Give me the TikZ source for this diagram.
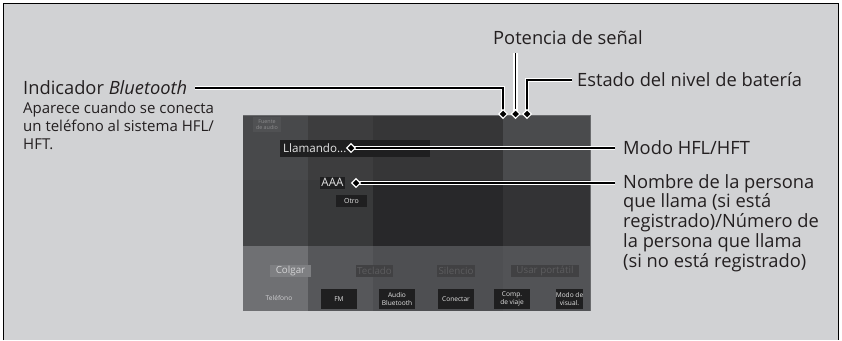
\documentclass[tikz,border=0pt]{standalone}
\usepackage{fontspec}
\setmainfont{Open Sans}
\usetikzlibrary{shapes.geometric}

\definecolor{pagegray}{HTML}{D1D2D4}
\definecolor{inkblack}{HTML}{231F20}
\definecolor{keydark}{HTML}{1F1F20}
\definecolor{keydim}{HTML}{414143}
\definecolor{txtlight}{HTML}{E4E4E4}
\definecolor{txtdim}{HTML}{5C5C5E}
\definecolor{topA}{HTML}{48494B}
\definecolor{topB}{HTML}{3D3D3E}
\definecolor{topC}{HTML}{363637}
\definecolor{topD}{HTML}{4A4B4D}
\definecolor{midA}{HTML}{444547}
\definecolor{midB}{HTML}{38393A}
\definecolor{midC}{HTML}{28282A}
\definecolor{midD}{HTML}{333335}
\definecolor{botA}{HTML}{6F7073}
\definecolor{botB}{HTML}{56575A}
\definecolor{botC}{HTML}{4E4F52}
\definecolor{botD}{HTML}{525356}
\definecolor{rimgray}{HTML}{6A6B6D}
\definecolor{srcbox}{HTML}{505153}
\definecolor{srctxt}{HTML}{8A8A8C}
\definecolor{hangbox}{HTML}{7E7F82}
\definecolor{hangtxt}{HTML}{D4D4D6}
\definecolor{phonetxt}{HTML}{D0D0D2}

\tikzset{
  callout/.style={draw=black, line width=1.8pt, preaction={draw=white, line width=4.6pt}},
  marker/.style={diamond, fill=black, draw=white, line width=1.1pt, inner sep=0pt, minimum size=9pt},
  label/.style={inner sep=0pt, align=left, text=inkblack, font=\fontsize{18.3}{19.8}\selectfont},
  desc/.style={inner sep=0pt, align=left, text=inkblack, font=\fontsize{15}{18}\selectfont},
  softkey/.style={fill=keydark, text=txtlight, inner sep=0pt, minimum height=20pt, align=center, font=\fontsize{6.6}{7.6}\selectfont},
  barkey/.style={fill=keydim, text=txtdim, inner sep=0pt, minimum height=12pt, font=\fontsize{9.8}{10}\selectfont}
}

\begin{document}
\begin{tikzpicture}[x=1pt,y=-1pt]
\useasboundingbox (0,0) rectangle (842,340);
\fill[pagegray] (3.5,3.5) rectangle (838.5,340);
\draw[line width=1.2pt] (3.5,340) -- (3.5,3.5) -- (838.5,3.5) -- (838.5,340);

% screen
\fill[topA] (243,115) rectangle (308,180);
\fill[topB] (308,115) rectangle (373,180);
\fill[topC] (373,115) rectangle (503,180);
\fill[topD] (503,115) rectangle (590,180);
\fill[midA] (243,180) rectangle (308,246);
\fill[midB] (308,180) rectangle (373,246);
\fill[midC] (373,180) rectangle (503,246);
\fill[midD] (503,180) rectangle (590,246);
\fill[botA] (243,246) rectangle (308,311);
\fill[botB] (308,246) rectangle (373,311);
\fill[botC] (373,246) rectangle (503,311);
\fill[botD] (503,246) rectangle (590,311);
\draw[rimgray, line width=0.8pt] (243,115) -- (590,115) -- (590,311);

\node[fill=srcbox, text=srctxt, inner sep=0pt, minimum width=28pt, minimum height=15pt, align=center, font=\fontsize{5.4}{6}\selectfont] (src) at (267,124.5) {Fuente\\de audio};
\node[fill=keydark, inner sep=0pt, minimum width=150pt, minimum height=17pt] (callbox) at (355,148.5) {};
\node[text=txtlight, inner sep=0pt, anchor=west, font=\fontsize{11.6}{12}\selectfont] (calling) at (283,148.5) {Llamando...};
\node[fill=keydark, text=txtlight, inner sep=0pt, minimum width=25pt, minimum height=12pt, font=\fontsize{11.6}{12}\selectfont] (caller) at (332.5,182.5) {AAA};
\node[fill=keydark, text=txtlight, inner sep=0pt, minimum width=31pt, minimum height=12pt, font=\fontsize{7}{7}\selectfont] (other) at (351.5,201) {Otro};

\node[barkey, fill=hangbox, text=hangtxt, minimum width=41pt] (hang) at (290.5,271) {Colgar};
\node[barkey, minimum width=37pt] (pad) at (374.5,271) {Teclado};
\node[barkey, minimum width=38pt] (mute) at (456,271) {Silencio};
\node[barkey, minimum width=68pt] (handset) at (545,271) {Usar portátil};

\node[text=phonetxt, inner sep=0pt, font=\fontsize{6.6}{7.6}\selectfont] (phone) at (279,298) {Teléfono};
\node[softkey, minimum width=36pt] (fm) at (339,299) {FM};
\node[softkey, minimum width=36pt] (btaudio) at (397,299) {Audio\\Bluetooth};
\node[softkey, minimum width=36pt] (connect) at (456,299) {Conectar};
\node[softkey, minimum width=36pt] (trip) at (512,299) {Comp.\\de viaje};
\node[softkey, minimum width=27pt] (display) at (569.5,299) {Modo de\\visual.};

% callouts
\coordinate (pBt) at (503,114);
\coordinate (pSig) at (515.5,114);
\coordinate (pBat) at (527,114);
\coordinate (pMode) at (351,148);
\coordinate (pName) at (356,183);

\node[label, anchor=west] (bt) at (23,88) {Indicador \textit{Bluetooth}};
\node[desc, anchor=north west] (btdesc) at (23,102) {Aparece cuando se conecta\\un teléfono al sistema HFL/\\HFT.};
\node[label, anchor=west] (sig) at (493,38) {Potencia de señal};
\node[label, anchor=west] (bat) at (577,80) {Estado del nivel de batería};
\node[label, anchor=west] (mode) at (623,148) {Modo HFL/HFT};
\node[label, anchor=north west] (name) at (623,174) {Nombre de la persona\\que llama (si está\\registrado)/Número de\\la persona que llama\\(si no está registrado)};

\draw[callout] ([xshift=8pt]bt.east) -| (pBt);
\draw[callout] ([yshift=-8pt]sig.south -| pSig) -- (pSig);
\draw[callout] ([xshift=-5pt]bat.west) -| (pBat);
\draw[callout] ([xshift=-8pt]mode.west) -- (pMode);
\draw[callout] ([xshift=-8pt]pName -| name.west) -- (pName);

\node[marker] (mBt) at (pBt) {};
\node[marker] (mSig) at (pSig) {};
\node[marker] (mBat) at (pBat) {};
\node[marker] (mMode) at (pMode) {};
\node[marker] (mName) at (pName) {};
\end{tikzpicture}
\end{document}
